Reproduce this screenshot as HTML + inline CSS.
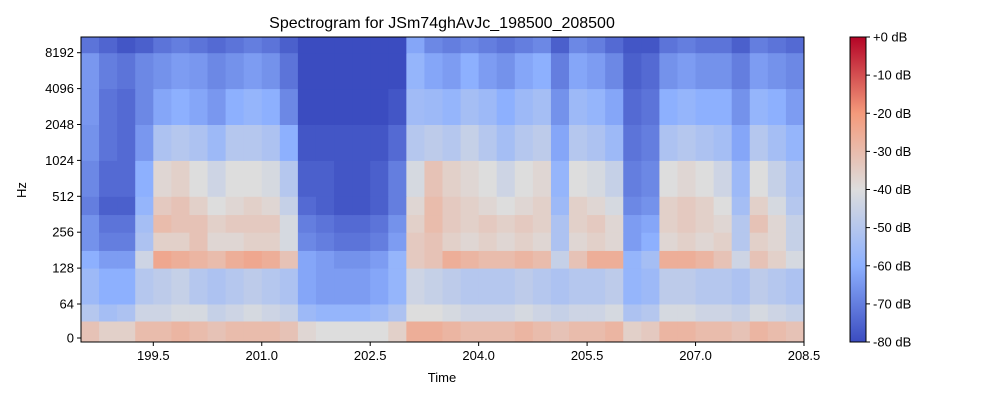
<!DOCTYPE html>
<html><head><meta charset="utf-8">
<style>
body{margin:0;background:#fff;}
svg text{font-family:"Liberation Sans",sans-serif;fill:#000;}
</style></head>
<body>
<svg id="chart" width="1000" height="400" viewBox="0 0 1000 400" xmlns="http://www.w3.org/2000/svg">
<defs>
<linearGradient id="cbg" x1="0" y1="1" x2="0" y2="0">
<stop offset="0" stop-color="rgb(59,76,192)"/>
<stop offset="0.25" stop-color="rgb(141,176,254)"/>
<stop offset="0.5" stop-color="rgb(221,221,221)"/>
<stop offset="0.75" stop-color="rgb(244,154,123)"/>
<stop offset="1" stop-color="rgb(180,4,38)"/>
</linearGradient>
</defs>
<text x="442" y="28" font-size="16" text-anchor="middle">Spectrogram for JSm74ghAvJc_198500_208500</text>
<g id="cells"></g>
<rect x="81" y="37" width="723" height="305" fill="none" stroke="#000" stroke-width="1"/>
<g id="xaxis"></g>
<g id="yaxis"></g>
<text x="442" y="382" font-size="13" text-anchor="middle">Time</text>
<text x="26" y="190" font-size="13" text-anchor="middle" transform="rotate(-90 26 190)">Hz</text>
<rect x="850" y="37" width="16" height="305" fill="url(#cbg)" stroke="#000" stroke-width="1"/>
<g id="cbaxis"></g>
</svg>
<script>
const tStart = 198.5, tEnd = 208.5, colDur = 0.25;
const xTicks = [199.5, 201.0, 202.5, 204.0, 205.5, 207.0, 208.5];
const xTickLabels = ["199.5","201.0","202.5","204.0","205.5","207.0","208.5"];
const yTicks = [0, 64, 128, 256, 512, 1024, 2048, 4096, 8192];
const cbTicks = [0,-10,-20,-30,-40,-50,-60,-70,-80];
const bandEdges = [0,32,64,128,180,256,360,512,1024,2048,4096,8192,11025];
// rows from lowest band (0-32 Hz) to highest (8192-11025 Hz), dB values per 0.25 s column
const band0 = [-32,-36,-36,-30,-30,-28,-30,-32,-30,-30,-30,-32,-38,-40,-40,-40,-40,-36,-26,-26,-28,-30,-30,-30,-28,-30,-32,-30,-30,-28,-36,-34,-28,-28,-30,-30,-32,-28,-30,-32];
const band1 = [-50,-54,-52,-44,-44,-42,-42,-46,-44,-42,-44,-46,-56,-58,-58,-58,-56,-52,-40,-40,-42,-44,-44,-44,-42,-44,-46,-44,-44,-42,-52,-50,-42,-42,-44,-44,-46,-42,-44,-46];
const band2 = [-56,-60,-60,-50,-48,-46,-50,-52,-50,-48,-50,-52,-62,-64,-64,-64,-62,-58,-44,-46,-48,-50,-50,-50,-48,-50,-52,-50,-50,-48,-58,-56,-48,-48,-50,-50,-52,-48,-50,-52];
const band3 = [-60,-64,-64,-44,-24,-26,-28,-30,-26,-24,-26,-32,-62,-64,-66,-66,-64,-58,-34,-32,-26,-28,-30,-30,-28,-30,-46,-32,-26,-26,-58,-54,-26,-26,-28,-32,-44,-32,-36,-42];
const band4 = [-66,-70,-70,-52,-36,-36,-32,-38,-38,-36,-36,-42,-68,-70,-72,-72,-70,-64,-34,-32,-36,-38,-36,-38,-36,-38,-52,-38,-36,-38,-64,-60,-38,-36,-38,-36,-50,-36,-38,-46];
const band5 = [-66,-72,-72,-54,-30,-32,-32,-36,-34,-34,-34,-42,-70,-72,-74,-74,-72,-66,-36,-30,-34,-36,-34,-36,-34,-36,-52,-36,-34,-38,-64,-62,-36,-34,-36,-38,-50,-32,-38,-46];
const band6 = [-70,-76,-76,-58,-34,-32,-36,-40,-38,-36,-38,-46,-74,-76,-78,-78,-76,-70,-38,-30,-34,-36,-38,-40,-38,-36,-56,-36,-38,-42,-68,-66,-36,-34,-36,-40,-54,-36,-42,-50];
const band7 = [-68,-74,-74,-60,-38,-36,-40,-44,-40,-40,-42,-50,-76,-76,-78,-78,-76,-70,-42,-32,-36,-38,-40,-44,-40,-38,-58,-40,-42,-46,-70,-68,-40,-38,-40,-44,-56,-40,-46,-52];
const band8 = [-66,-72,-74,-65,-52,-50,-52,-56,-50,-50,-52,-60,-78,-78,-78,-78,-78,-74,-50,-48,-50,-46,-50,-54,-50,-48,-62,-50,-52,-56,-72,-70,-52,-50,-52,-54,-62,-50,-54,-58];
const band9 = [-65,-72,-74,-68,-62,-60,-62,-65,-60,-58,-60,-68,-80,-80,-80,-80,-80,-78,-55,-56,-58,-54,-56,-60,-56,-54,-66,-56,-58,-62,-74,-72,-60,-58,-60,-60,-66,-58,-60,-64];
const band10 = [-65,-70,-72,-68,-66,-64,-65,-68,-66,-64,-66,-72,-80,-80,-80,-80,-80,-80,-58,-62,-64,-60,-64,-66,-62,-60,-70,-62,-64,-68,-76,-74,-66,-64,-66,-66,-70,-64,-66,-68];
const band11 = [-72,-75,-78,-76,-72,-70,-72,-74,-72,-70,-72,-76,-80,-80,-80,-80,-80,-80,-62,-68,-70,-68,-70,-72,-70,-68,-76,-68,-70,-74,-78,-78,-72,-70,-72,-72,-76,-70,-72,-74];
const bands = [band0,band1,band2,band3,band4,band5,band6,band7,band8,band9,band10,band11];

const NS="http://www.w3.org/2000/svg";
const X0=81,X1=804,Y0=37,Y1=342;
function xs(t){return X0+(t-tStart)/(tEnd-tStart)*(X1-X0);}
function ys(f){return f<=64 ? 338 - f/64*34 : 304 - Math.log2(f/64)*35.9;}
function cy(db){return Y0+(-db)/80*(Y1-Y0);}
const stops=[[59,76,192],[141,176,254],[221,221,221],[244,154,123],[180,4,38]];
function cmap(db){let v=Math.max(0,Math.min(1,(db+80)/80))*4;let i=Math.min(3,Math.floor(v));let f=v-i;
 const a=stops[i],b=stops[i+1];return `rgb(${Math.round(a[0]+(b[0]-a[0])*f)},${Math.round(a[1]+(b[1]-a[1])*f)},${Math.round(a[2]+(b[2]-a[2])*f)})`;}
function mk(tag,attrs,parent){const e=document.createElementNS(NS,tag);for(const k in attrs)e.setAttribute(k,attrs[k]);parent.appendChild(e);return e;}

const cells=document.getElementById('cells');
bands.forEach((row,bi)=>{
 const yTop=ys(bandEdges[bi+1]);
 const yBot=bi===0?Y1:ys(bandEdges[bi]);
 row.forEach((db,ci)=>{
  const xa=xs(tStart+ci*colDur), xb=xs(tStart+(ci+1)*colDur);
  const r=mk('rect',{x:xa,y:yTop,width:xb-xa+0.5,height:yBot-yTop+0.5,fill:cmap(db)},cells);
  
  
 });
});

const xa=document.getElementById('xaxis');
xTicks.forEach((t,i)=>{
 const x=xs(t);
 const l=mk('line',{x1:x,y1:Y1,x2:x,y2:Y1+4,stroke:'#000'},xa);
 
 
 const tx=mk('text',{x:x,y:Y1+18,'font-size':13,'text-anchor':'middle'},xa);
 tx.textContent=xTickLabels[i];
 
 
});
const ya=document.getElementById('yaxis');
yTicks.forEach(f=>{
 const y=ys(f);
 const l=mk('line',{x1:X0-4,y1:y,x2:X0,y2:y,stroke:'#000'},ya);
 
 
 const tx=mk('text',{x:X0-7,y:y+4.5,'font-size':13,'text-anchor':'end'},ya);
 tx.textContent=String(f);
 
 
});
const ca=document.getElementById('cbaxis');
cbTicks.forEach(d=>{
 const y=cy(d);
 const l=mk('line',{x1:866,y1:y,x2:870,y2:y,stroke:'#000'},ca);
 
 
 const tx=mk('text',{x:873,y:y+4.5,'font-size':13},ca);
 tx.textContent=(d===0?'+0':String(d))+' dB';
 
 
});
</script>
</body></html>
